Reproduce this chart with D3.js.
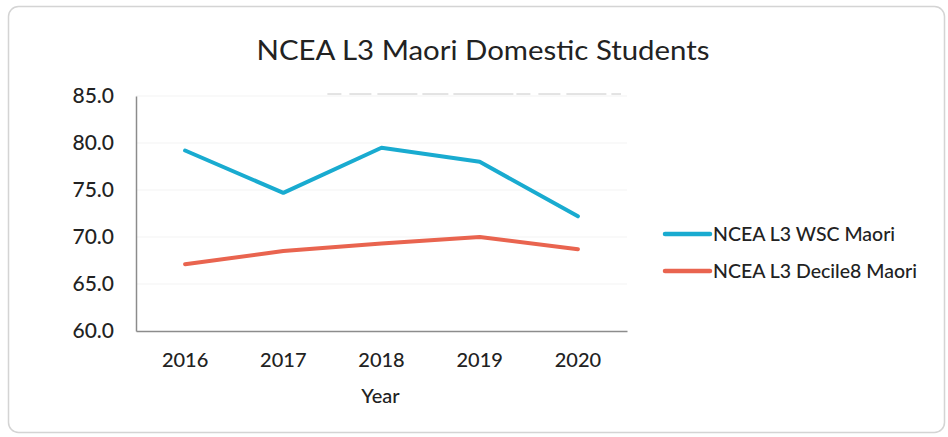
<!DOCTYPE html>
<html>
<head>
<meta charset="utf-8">
<script src="https://cdn.jsdelivr.net/npm/d3@7"></script>
<style>
  html, body { margin: 0; padding: 0; background: #ffffff; }
  svg { display: block; }
  text { font-family: Lato, "Open Sans", sans-serif; fill: #222222; }
</style>
</head>
<body>
<svg id="chart" width="948" height="437"></svg>
<script>
const years = ["2016", "2017", "2018", "2019", "2020"];
const wscMaori = [79.2, 74.7, 79.5, 78.0, 72.2];
const decile8Maori = [67.1, 68.5, 69.3, 70.0, 68.7];
const yTicks = [60, 65, 70, 75, 80, 85];
const seriesNames = ["NCEA L3 WSC Maori", "NCEA L3 Decile8 Maori"];
const seriesColors = ["#19abd0", "#e9644f"];
const title = "NCEA L3 Maori Domestic Students";
const xTitle = "Year";

const W = 948, H = 437;
const plot = { left: 136, right: 627, top: 96, bottom: 331 };
const fontStack = "Lato, 'Open Sans', sans-serif";

const svg = d3.select("#chart");

// chart frame
svg.append("rect")
  .attr("x", 8.5).attr("y", 6.5)
  .attr("width", W - 12).attr("height", H - 11)
  .attr("rx", 10).attr("ry", 10)
  .attr("fill", "#ffffff")
  .attr("stroke", "#d4d4d4")
  .attr("stroke-width", 1.5);

const x = d3.scaleBand().domain(years).range([plot.left, plot.right]);
const y = d3.scaleLinear().domain([60, 85]).range([plot.bottom, plot.top]);

// faint horizontal gridlines
svg.append("g")
  .selectAll("line")
  .data(yTicks.slice(1))
  .join("line")
  .attr("x1", plot.left).attr("x2", plot.right)
  .attr("y1", d => y(d)).attr("y2", d => y(d))
  .attr("stroke", "#f3f3f3")
  .attr("stroke-width", 1);

// faint dashed rule along the top of the plot
svg.append("line")
  .attr("x1", x("2018") - 5).attr("x2", plot.right - 6)
  .attr("y1", y(85) - 2).attr("y2", y(85) - 2)
  .attr("stroke", "#c8c8c8")
  .attr("stroke-width", 1)
  .attr("stroke-dasharray", "14 8 22 6 40 5 26 5 60 3");

// title
svg.append("text")
  .attr("x", 483).attr("y", 60)
  .attr("text-anchor", "middle")
  .attr("font-size", 27)
  .attr("textLength", 453)
  .attr("lengthAdjust", "spacingAndGlyphs")
  .text(title);

// y axis
const yAxis = d3.axisLeft(y)
  .tickValues(yTicks)
  .tickFormat(d3.format(".1f"))
  .tickSize(0)
  .tickPadding(22);
const gy = svg.append("g")
  .attr("transform", `translate(${plot.left},0)`)
  .call(yAxis);
gy.select(".domain").attr("stroke", "#8c8c8c").attr("stroke-width", 1.5);
gy.selectAll("text")
  .attr("font-size", 21)
  .attr("font-weight", 500)
  .attr("fill", "#222222")
  .style("font-family", fontStack);

// x axis
const xAxis = d3.axisBottom(x).tickSize(0).tickPadding(22);
const gx = svg.append("g")
  .attr("transform", `translate(0,${plot.bottom})`)
  .call(xAxis);
gx.select(".domain").attr("stroke", "#8c8c8c").attr("stroke-width", 1.5);
gx.selectAll("text")
  .attr("font-size", 20)
  .attr("font-weight", 500)
  .attr("fill", "#222222")
  .style("font-family", fontStack);

// x axis title
svg.append("text")
  .attr("x", (plot.left + plot.right) / 2 - 1)
  .attr("y", 403)
  .attr("text-anchor", "middle")
  .attr("font-size", 20)
  .attr("font-weight", 500)
  .text(xTitle);

// series lines
const line = d3.line()
  .x((d, i) => x(years[i]) + x.bandwidth() / 2)
  .y(d => y(d));

[wscMaori, decile8Maori].forEach((vals, i) => {
  svg.append("path")
    .datum(vals)
    .attr("fill", "none")
    .attr("stroke", seriesColors[i])
    .attr("stroke-width", 4)
    .attr("stroke-linejoin", "round")
    .attr("stroke-linecap", "round")
    .attr("d", line);
});

// legend
const legend = svg.append("g").attr("transform", "translate(665,234)");
seriesNames.forEach((name, i) => {
  const g = legend.append("g").attr("transform", `translate(0,${i * 37})`);
  g.append("line")
    .attr("x1", 0).attr("x2", 45)
    .attr("y1", 0).attr("y2", 0)
    .attr("stroke", seriesColors[i])
    .attr("stroke-width", 4.5)
    .attr("stroke-linecap", "round");
  g.append("text")
    .attr("x", 48).attr("y", 7)
    .attr("font-size", 19.5)
    .attr("font-weight", 500)
    .text(name);
});
</script>
</body>
</html>
